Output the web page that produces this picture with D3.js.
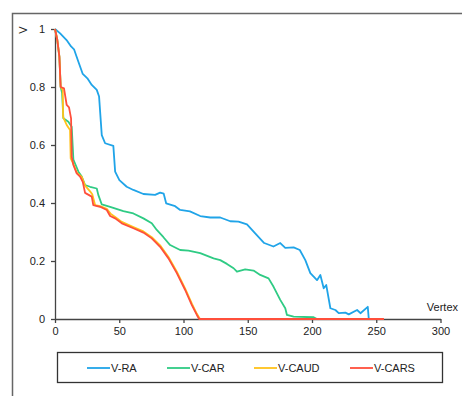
<!DOCTYPE html>
<html>
<head>
<meta charset="utf-8">
<script src="https://cdn.jsdelivr.net/npm/d3@7"></script>
<style>
  body { margin: 0; background: #fff; }
  svg { display: block; font-family: "Liberation Sans", Arial, sans-serif; }
</style>
</head>
<body>
<div id="chart"></div>
<script>
// [vertex, V] pairs
const seriesNames = ["V-RA", "V-CAR", "V-CAUD", "V-CARS"]
const seriesColors = ["#20a4e8", "#2fcb84", "#ffc21a", "#ff4f3b"]

const ra = [[0,1],[4,0.985],[9,0.962],[12.5,0.94],[14.8,0.93],[18.2,0.887],[21.6,0.845],[25.2,0.83],[28.6,0.807],[32.5,0.79],[34.3,0.767],[36.4,0.634],[39,0.606],[45.4,0.597],[46.8,0.508],[50.1,0.479],[55.8,0.456],[61,0.445],[68.8,0.431],[77.9,0.428],[81.8,0.436],[84.6,0.432],[86.5,0.399],[93.5,0.389],[97.4,0.376],[105,0.371],[113,0.355],[120.8,0.35],[128.6,0.35],[136.4,0.337],[142.8,0.336],[149.4,0.326],[155.8,0.295],[162.8,0.262],[170,0.25],[175.3,0.262],[179.2,0.245],[185.7,0.247],[190.5,0.238],[194.8,0.203],[198.7,0.158],[201.3,0.146],[203.9,0.134],[206.5,0.152],[209.1,0.106],[211.1,0.117],[214.3,0.037],[218.2,0.031],[220.8,0.02],[226,0.022],[228.6,0.016],[235.1,0.031],[237.7,0.02],[243.4,0.042],[244.2,0]]

const car = [[0,1],[1.8,0.962],[3.4,0.905],[3.9,0.853],[4.4,0.8],[5.5,0.78],[6.5,0.692],[10.4,0.68],[13,0.663],[14.3,0.55],[18.2,0.508],[20.8,0.491],[23.4,0.462],[27.3,0.456],[32.5,0.45],[33.7,0.428],[36.4,0.395],[42.9,0.387],[53.2,0.372],[61,0.364],[68.8,0.347],[75.3,0.33],[79.2,0.307],[84.4,0.282],[89.6,0.255],[97.4,0.238],[103.9,0.236],[113,0.227],[123.4,0.209],[128.6,0.203],[133.8,0.19],[139,0.175],[141.6,0.163],[148,0.171],[154.5,0.167],[159.7,0.152],[166.2,0.14],[170.1,0.111],[175.3,0.066],[179.2,0.037],[180.5,0.014],[185.7,0.008],[201.3,0.006],[203.9,0]]

const caud = [[0,1],[1.8,0.962],[3.4,0.905],[3.9,0.853],[4.4,0.8],[6,0.79],[6.3,0.697],[9.1,0.669],[11.7,0.652],[12.2,0.554],[14.3,0.535],[17,0.505],[20.8,0.49],[23.4,0.46],[27.3,0.44],[29,0.43],[31.2,0.393],[35.1,0.389],[40.3,0.38],[43.5,0.362],[46.8,0.352],[52,0.335],[61,0.317],[68.8,0.302],[75.3,0.282],[81.8,0.254],[88.3,0.214],[94.8,0.163],[101.3,0.105],[106.5,0.053],[110.4,0.018],[112.8,0],[120,0]]

const cars = [[0,1],[1.8,0.962],[3.4,0.905],[3.9,0.853],[4.4,0.8],[7,0.795],[9.1,0.738],[10.9,0.73],[12.5,0.692],[13,0.56],[14.3,0.531],[16.9,0.502],[19.5,0.491],[21.6,0.473],[23.4,0.435],[28.6,0.422],[29.8,0.393],[35.1,0.387],[40.3,0.376],[42.9,0.355],[46.8,0.347],[52,0.33],[61,0.313],[68.8,0.298],[75.3,0.278],[81.8,0.249],[88.3,0.209],[94.8,0.158],[101.3,0.1],[106.5,0.048],[110.4,0.014],[112.2,0],[256,0]]

const xTicks = [0, 50, 100, 150, 200, 250, 300]
const yTicks = [0, 0.2, 0.4, 0.6, 0.8, 1]

const width = 462, height = 396
const margin = ({top: 29, right: 21, bottom: 77, left: 55})

const svg = d3.select("#chart").append("svg")
    .attr("width", width)
    .attr("height", height)

// outer frame (runs off the right and bottom edges)
svg.append("rect")
    .attr("x", 12.5).attr("y", 13.5)
    .attr("width", 600).attr("height", 600)
    .attr("fill", "none")
    .attr("stroke", "#666")
    .attr("stroke-width", 1.5)

var x = d3.scaleLinear()
    .domain([0, 300])
    .range([margin.left, width - margin.right - 0.5])
var y = d3.scaleLinear()
    .domain([0, 1])
    .range([height - margin.bottom, margin.top])

var gx = svg.append("g")
    .attr("transform", `translate(0,${y(0)})`)
    .call(d3.axisBottom(x).tickValues(xTicks).tickSize(4).tickPadding(4).tickSizeOuter(0))
gx.selectAll("text").attr("font-size", 11).attr("fill", "#222").attr("font-family", null)

var gy = svg.append("g")
    .attr("transform", `translate(${x(0)},0)`)
    .call(d3.axisLeft(y).tickValues(yTicks).tickFormat(d3.format("~g")).tickSize(4).tickPadding(6).tickSizeOuter(0))
gy.selectAll("text").attr("font-size", 11).attr("fill", "#222").attr("font-family", null)

svg.selectAll(".domain, .tick line").attr("stroke", "#444").attr("stroke-width", 1.3)

svg.append("text")
    .attr("transform", `translate(27,${y(1) + 1}) rotate(-90)`)
    .attr("text-anchor", "middle")
    .attr("font-size", 11)
    .attr("fill", "#222")
    .text("V")

svg.append("text")
    .attr("x", 458).attr("y", y(0) - 8)
    .attr("text-anchor", "end")
    .attr("font-size", 11)
    .attr("fill", "#222")
    .text("Vertex")

var line = d3.line()
    .x(d => x(d[0]))
    .y(d => y(d[1]))

const allSeries = [ra, car, caud, cars]
svg.append("g")
    .selectAll("path")
    .data(allSeries)
    .join("path")
    .attr("d", line)
    .attr("fill", "none")
    .attr("stroke", (d, i) => seriesColors[i])
    .attr("stroke-width", 1.8)
    .attr("stroke-linejoin", "round")

// legend
svg.append("rect")
    .attr("x", 57.5).attr("y", 352.5)
    .attr("width", 385).attr("height", 30)
    .attr("fill", "none")
    .attr("stroke", "#333")
    .attr("stroke-width", 1.3)

const legendX = [87, 167, 254, 350]
var items = svg.append("g")
    .selectAll("g")
    .data(seriesNames)
    .join("g")
    .attr("transform", (d, i) => `translate(${legendX[i]},368)`)
items.append("line")
    .attr("x1", 0).attr("x2", 23)
    .attr("stroke", (d, i) => seriesColors[i])
    .attr("stroke-width", 1.8)
items.append("text")
    .attr("x", 24)
    .attr("dy", "0.35em")
    .attr("font-size", 11)
    .attr("fill", "#222")
    .text(d => d)
</script>
</body>
</html>
